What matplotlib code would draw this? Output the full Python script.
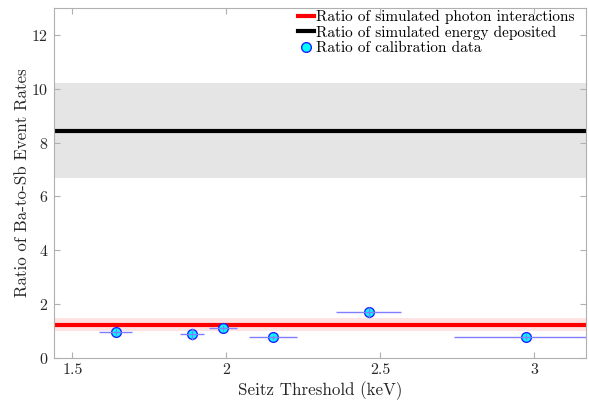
import numpy as np
import matplotlib
matplotlib.use('Agg')
import matplotlib.pyplot as plt

plt.rcParams['font.family'] = 'serif'
plt.rcParams['font.serif'] = ['cmr10']
plt.rcParams['mathtext.fontset'] = 'cm'
plt.rcParams['axes.formatter.use_mathtext'] = True

# calibration data: Seitz threshold (keV) and Ba/Sb rate ratio
threshold = [1.640, 1.889, 1.989, 2.152, 2.462, 2.975]
threshold_err = [0.055, 0.039, 0.044, 0.077, 0.106, 0.236]
ratio = [0.96, 0.89, 1.10, 0.76, 1.69, 0.78]
ratio_err = [0.12, 0.22, 0.12, 0.10, 0.21, 0.10]

# simulated ratios with their uncertainty bands
photon_ratio = 1.23
photon_band = (0.98, 1.47)
energy_ratio = 8.43
energy_band = (6.67, 10.2)

x_ticks = [1.5, 2, 2.5, 3]
x_tick_labels = ['1.5', '2', '2.5', '3']
y_ticks = [0, 2, 4, 6, 8, 10, 12]

fig = plt.figure(figsize=(5.89, 4.08), dpi=100)
ax = fig.add_axes([0.0917, 0.123, 0.904, 0.857])
xlim = (1.44, 3.17)

ax.fill_between(xlim, energy_band[0], energy_band[1], color='#e5e5e5', lw=0, zorder=1)
ax.fill_between(xlim, photon_band[0], photon_band[1], color='#ffe2e2', lw=0, zorder=1)
ax.plot(xlim, [photon_ratio] * 2, color='red', lw=3, zorder=2,
        label='Ratio of simulated photon interactions')
ax.plot(xlim, [energy_ratio] * 2, color='black', lw=3, zorder=2,
        label='Ratio of simulated energy deposited')

ax.plot(threshold, ratio, 'o', ms=7, mfc='#00ffff', mec='#2020ff', mew=1,
        zorder=3, label='Ratio of calibration data')
ax.errorbar(threshold, ratio, xerr=threshold_err, yerr=ratio_err, fmt='none',
            ecolor='#7f7fff', elinewidth=1, capsize=0, zorder=4)

ax.set_xlim(xlim)
ax.set_ylim(0, 13)
ax.set_xticks(x_ticks)
ax.set_xticklabels(x_tick_labels)
ax.set_yticks(y_ticks)
ax.tick_params(direction='in', top=True, right=True, length=4, width=0.8,
               color='#b0b0b0', labelcolor='#262626', labelsize=11.5, pad=4)
for s in ax.spines.values():
    s.set_color('#b0b0b0')
    s.set_linewidth(0.8)

ax.set_xlabel('Seitz Threshold (keV)', fontsize=12.2, color='#262626', labelpad=3)
ax.set_ylabel('Ratio of Ba-to-Sb Event Rates', fontsize=12.2, color='#262626', labelpad=1)

ax.legend(loc='upper right', bbox_to_anchor=(0.985, 1.006), frameon=False,
          fontsize=11, handlelength=1.05, handletextpad=0.15, borderaxespad=0.1,
          labelspacing=0.1, borderpad=0.15)

fig.savefig('out.png', dpi=100)
